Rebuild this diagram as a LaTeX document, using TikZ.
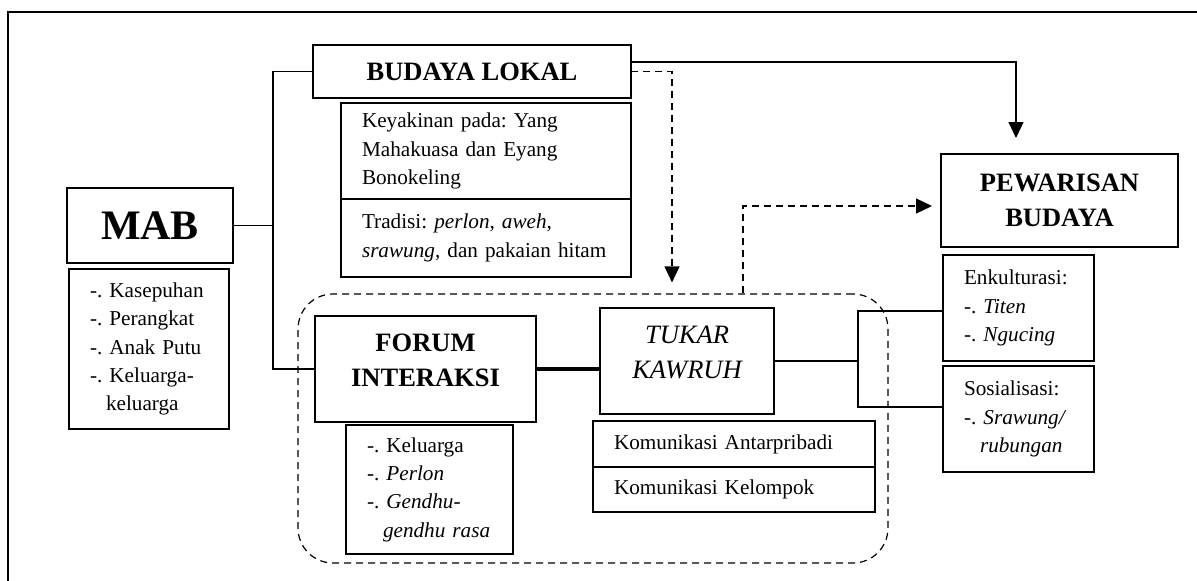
\documentclass[tikz,border=0pt]{standalone}
\usepackage{fontspec}
\setmainfont{Liberation Serif}
\usepackage{tikz}
\usetikzlibrary{arrows.meta,positioning,calc}
\newcommand{\teks}{\fontsize{21.2pt}{28.4pt}\selectfont\frenchspacing}
\newcommand{\judul}{\fontsize{26.5pt}{35pt}\selectfont\bfseries}
\newcommand{\besar}{\fontsize{42pt}{50pt}\selectfont\bfseries}
\tikzset{
  kotak/.style={rectangle, draw=black, line width=1.2pt, inner sep=0pt, outer sep=0pt, align=center},
  judul/.style={kotak, font=\judul},
  judulatas/.style={judul, text height=70.75pt, text depth=35.25pt},
  daftar/.style={kotak, align=left, font=\teks, inner xsep=21pt},
  garis/.style={draw=black, line width=1.2pt},
  tebal/.style={draw=black, line width=3.5pt},
  panah/.style={garis, -{Triangle[length=16pt,width=15pt]}},
  putus/.style={panah, dash pattern=on 7pt off 5pt},
  wadah/.style={rectangle, draw=black, line width=1.2pt, dash pattern=on 7pt off 5pt, rounded corners=35pt}
}

\begin{document}
\begin{tikzpicture}[x=1pt, y=-1pt]
\useasboundingbox (0,0) rectangle (1197,581);
\draw[line width=1.2pt] (8,581) -- (8,12) -- (1197,12);

% wadah forum interaksi
\node[wadah, minimum width=590pt, minimum height=269pt] (wadah) at (593,428.5) {};

\node[judul, font=\besar, minimum width=166pt, minimum height=75pt] (mab) at (150,225.5) {MAB};
\node[daftar, text width=118pt, minimum height=160pt, below=6pt of mab, xshift=-1pt] (mab-isi) {-. Kasepuhan\\-. Perangkat\\-. Anak Putu\\-. Keluarga-\\\hspace*{16pt}keluarga};

\node[judul, minimum width=318pt, minimum height=53pt] (budaya) at (472,71.5) {BUDAYA LOKAL};
\node[daftar, text width=248pt, minimum height=96pt, below=5pt of budaya.south east, anchor=north east] (keyakinan) {Keyakinan pada: Yang\\Mahakuasa dan Eyang\\Bonokeling};
\node[daftar, text width=248pt, minimum height=78pt, below=0pt of keyakinan] (tradisi) {Tradisi: \textit{perlon}, \textit{aweh},\\\textit{srawung}, dan pakaian hitam};

\node[judul, minimum width=237pt, minimum height=93pt] (pewarisan) at (1059.5,200.5) {PEWARISAN\\BUDAYA};
\node[daftar, text width=109pt, minimum height=106pt, below=8pt of pewarisan.south west, anchor=north west, xshift=2pt] (enkult) {Enkulturasi:\\-. \textit{Titen}\\-. \textit{Ngucing}};
\node[daftar, text width=109pt, minimum height=106pt, below=5pt of enkult] (sosial) {Sosialisasi:\\-. \textit{Srawung/}\\\hspace*{16pt}\textit{rubungan}};

\node[judulatas, minimum width=221pt] (forum) at (425.5,316) [anchor=north] {FORUM\\INTERAKSI};
\node[daftar, text width=125pt, minimum height=129pt, below=3pt of forum, xshift=4pt] (forum-isi) {-. Keluarga\\-. \textit{Perlon}\\-. \textit{Gendhu-}\\\hspace*{16pt}\textit{gendhu rasa}};

\node[judulatas, font=\judul\mdseries\itshape, minimum width=174pt] (tukar) at (687,308) [anchor=north] {TUKAR\\KAWRUH};
\node[daftar, text width=240pt, minimum height=46pt, below=7pt of tukar.south west, anchor=north west, xshift=-7pt] (kom1) {Komunikasi Antarpribadi};
\node[daftar, text width=240pt, minimum height=45pt, below=0pt of kom1] (kom2) {Komunikasi Kelompok};

\coordinate (cabang) at ($(mab.east)+(40,0)$);
\draw[garis] (mab.east) -- (cabang);
\draw[garis] (budaya.west) -| (cabang) |- (forum.west);
\draw[tebal] (forum.east) -- (forum.east -| tukar.west);

\coordinate (cabang2) at ($(tukar.east)+(84,0)$);
\draw[garis] (tukar.east) -- (cabang2);
\draw[garis] ($(enkult.north west)+(0,56)$) -| (cabang2) |- ($(sosial.north west)+(0,41)$);

\coordinate (ujung) at ($(pewarisan.north)+(-43.5,-16)$);
\draw[panah] ($(budaya.north east)+(0,17)$) -| (ujung);
\coordinate (masuk) at ($(wadah.north)+(79,-11)$);
\draw[putus] (budaya.east) -| (masuk);
\coordinate (naik) at ($(wadah.north)+(150,0)$);
\draw[putus] (naik) |- ($(pewarisan.west)+(-9,5.5)$);

\end{tikzpicture}
\end{document}
